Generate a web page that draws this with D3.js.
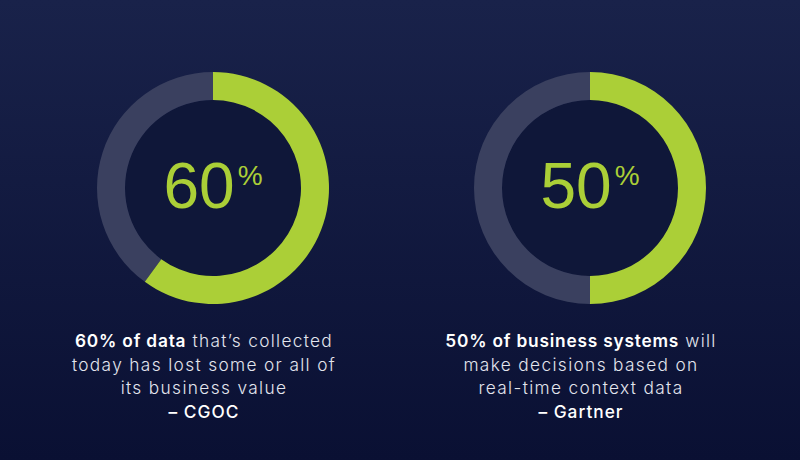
<!DOCTYPE html>
<html><head><meta charset="utf-8">
<script src="https://cdn.jsdelivr.net/npm/d3@7"></script>
<style>html,body{margin:0;padding:0;background:#141c44;}svg{display:block;}</style>
</head><body>
<svg id="c" width="800" height="460"></svg>
<script>
const labels = ["60", "50"];
const values = [60, 50];
const boldText = ["60% of data", "50% of business systems"];
const captionLines = [
  [" that’s collected", "today has lost some or all of", "its business value", "– CGOC"],
  [" will", "make decisions based on", "real-time context data", "– Gartner"]
];

const W = 800, H = 460;
const svg = d3.select("#c");
const defs = svg.append("defs");
const grad = defs.append("linearGradient").attr("id","bg").attr("x1",0).attr("y1",0).attr("x2",0).attr("y2",1);
grad.append("stop").attr("offset","0%").attr("stop-color","#19224a");
grad.append("stop").attr("offset","100%").attr("stop-color","#0a1033");
svg.append("rect").attr("width",W).attr("height",H).attr("fill","url(#bg)");

const x = d3.scalePoint().domain(d3.range(values.length)).range([213, 590]);
const pct = d3.scaleLinear().domain([0,100]).range([0, 2*Math.PI]);
const cy = 188, rOut = 116, rIn = 88;
const arc = d3.arc().innerRadius(rIn).outerRadius(rOut);

values.forEach((v, i) => {
  const g = svg.append("g").attr("transform", `translate(${x(i)},${cy})`);
  g.append("circle").attr("r", rIn).attr("fill", "#0f1739");
  g.append("path").attr("d", arc({startAngle: pct(v), endAngle: 2*Math.PI})).attr("fill", "#3a405f");
  g.append("path").attr("d", arc({startAngle: 0, endAngle: pct(v)})).attr("fill", "#abcf37");
  const t = g.append("text").attr("text-anchor","middle").attr("y", 20)
    .attr("font-family","Liberation Sans, Arial, sans-serif").attr("fill","#abcf37");
  t.append("tspan").attr("font-size", 64).text(labels[i]);
  t.append("tspan").attr("font-size", 28).attr("dy", -23).attr("dx", 3).text("%");

  const tx = x(i) - 9;
  const cap = svg.append("text").attr("text-anchor","middle")
    .attr("font-family","Inter, sans-serif").attr("font-size", 17.3).attr("fill","#e3e5ee");
  const l1 = cap.append("tspan").attr("x", tx).attr("y", 347);
  l1.append("tspan").attr("font-weight", 600).attr("letter-spacing", 0.8).attr("fill","#ffffff").text(boldText[i]);
  l1.append("tspan").attr("font-weight", 300).attr("letter-spacing", 1.3).text(captionLines[i][0]);
  captionLines[i].slice(1).forEach((line, k) => {
    const last = k === captionLines[i].length - 2;
    cap.append("tspan").attr("x", tx).attr("y", 347 + 23.6*(k+1))
      .attr("letter-spacing", last ? 1 : 1.35)
      .attr("font-weight", last ? 500 : 300).attr("fill", last ? "#ffffff" : "#e3e5ee").text(line);
  });
});
</script>
</body></html>
